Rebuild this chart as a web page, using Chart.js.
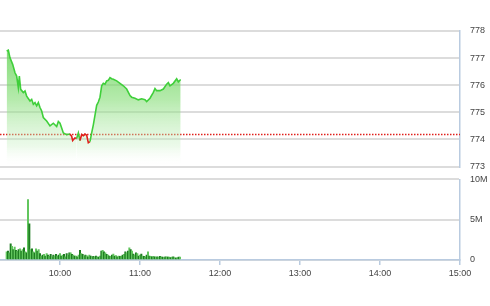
<!DOCTYPE html>
<html>
<head>
<meta charset="utf-8">
<script src="https://cdn.jsdelivr.net/npm/chart.js@4/dist/chart.umd.min.js"></script>
<style>
  html, body { margin: 0; padding: 0; background: #fff; }
  #wrap { position: relative; width: 490px; height: 306px; overflow: hidden; }
  canvas { position: absolute; left: 0; display: block; }
  #priceChart { top: 0; }
  #volChart { top: 164px; }
</style>
</head>
<body>
<div id="wrap">
  <canvas id="priceChart" width="490" height="182"></canvas>
  <canvas id="volChart" width="490" height="122"></canvas>
</div>
<script>
// time in minutes since midnight (9:15 -> 555, 15:00 -> 900)
const X_MIN = 555;
const X_MAX = 900;
const TIME_TICKS = ['10:00', '11:00', '12:00', '13:00', '14:00', '15:00'];

const REF_PRICE = 774.18;
const PRICE_TICKS = [773, 774, 775, 776, 777, 778];

const priceTimes = [
  560, 561.25, 562.5, 564.5, 566.25, 567.5, 568.75, 569.5, 570.5, 572.5,
  573.75, 575, 577.5, 578.75, 580, 581.25, 582.5, 583.75, 585, 586.25,
  587.5, 590, 592.5, 595, 597.5, 598.75, 600, 601.25, 602.5, 605,
  607.5, 608.75, 609.5, 611.25, 612.5, 613.75, 615, 616.25, 617.5, 618.75,
  620, 621.25, 622.5, 623.75, 625, 626.25, 627.5, 628.75, 630, 631.25,
  632.5, 633.75, 635, 636.25, 637.5, 638.75, 640, 642.5, 645, 647.5,
  650, 652.5, 653.75, 656.25, 658.75, 661.25, 663.75, 665, 667.5, 670,
  671.25, 672.5, 675, 677.5, 680, 681.25, 682.5, 685, 687.5, 688.75, 690.5
];
const priceValues = [
  777.26, 777.29, 777.01, 776.77, 776.46, 776.34, 775.91, 776.34, 775.85, 775.73,
  775.79, 775.60, 775.42, 775.48, 775.30, 775.36, 775.24, 775.36, 775.18, 775.05,
  774.81, 774.68, 774.50, 774.60, 774.48, 774.66, 774.60, 774.42, 774.24, 774.18,
  774.20, 774.12, 773.96, 774.06, 774.04, 774.24, 773.96, 774.18, 774.14, 774.20,
  774.16, 773.88, 773.92, 774.24, 774.54, 774.90, 775.26, 775.38, 775.56, 775.98,
  776.07, 776.04, 776.16, 776.18, 776.28, 776.24, 776.22, 776.16, 776.07, 775.98,
  775.86, 775.62, 775.56, 775.52, 775.46, 775.50, 775.47, 775.40, 775.52, 775.74,
  775.88, 775.80, 775.80, 775.86, 776.04, 776.10, 775.98, 776.07, 776.24, 776.12, 776.21
];

// volume per minute, millions, starting 9:20
const VOL_START = 560;
const VOL_TICKS = [0, 5, 10];
const volM = [
  1.0, 1.1, 0.9, 2.0, 1.7, 1.3, 1.6, 1.2, 1.1, 1.3,
  1.4, 1.1, 1.3, 1.5, 1.0, 0.9, 7.5, 4.5, 1.3, 1.4,
  1.0, 0.9, 1.4, 1.1, 1.3, 0.8, 0.5, 0.6, 0.7, 0.5,
  0.8, 0.6, 0.5, 0.7, 0.4, 0.6, 0.5, 0.7, 0.5, 0.6,
  0.8, 0.5, 0.6, 0.7, 0.4, 0.8, 0.6, 0.9, 0.9, 0.7,
  0.6, 0.5, 0.5, 0.4, 0.6, 1.2, 0.8, 0.7, 0.5, 0.6,
  0.55, 0.4, 0.6, 0.5, 0.4, 0.45, 0.4, 0.5, 0.4, 0.35,
  0.5, 1.1, 1.2, 1.0, 0.9, 0.7, 0.6, 0.5, 0.45, 0.6,
  0.75, 0.5, 0.55, 0.4, 0.5, 0.45, 0.5, 0.6, 0.7, 1.0,
  0.9, 1.1, 1.5, 1.3, 1.1, 0.75, 0.6, 0.9, 0.8, 0.5,
  0.6, 0.75, 0.5, 0.45, 0.4, 0.6, 1.0, 0.5, 0.45, 0.4,
  0.45, 0.4, 0.35, 0.4, 0.35, 0.45, 0.4, 0.35, 0.3, 0.4,
  0.4, 0.35, 0.37, 0.3, 0.35, 0.4, 0.3, 0.25, 0.3, 0.35, 0.37
];

const GREEN = '#3fcf3a';
const RED = '#e0201c';
const GRID = '#dcdcdc';
const EDGE = '#b9cbe0';
const TICK_FONT = { family: "'Liberation Sans', Arial, sans-serif", size: 9 };

Chart.defaults.color = '#444';
Chart.defaults.animation = false;

function toMinutes(s) {
  const [h, m] = s.split(':').map(Number);
  return h * 60 + m;
}
function fmtTime(v) {
  const h = Math.floor(v / 60), m = v % 60;
  return h + ':' + String(m).padStart(2, '0');
}

function fillGradient(ctx) {
  const { chart } = ctx;
  const area = chart.chartArea;
  if (!area) return 'rgba(100,210,90,0.5)';
  const g = chart.ctx.createLinearGradient(0, area.top, 0, area.bottom);
  g.addColorStop(0, 'rgba(80,205,65,0.85)');
  g.addColorStop(0.5, 'rgba(130,220,115,0.6)');
  g.addColorStop(0.85, 'rgba(200,240,195,0.35)');
  g.addColorStop(1, 'rgba(255,255,255,0)');
  return g;
}

// price panel
new Chart(document.getElementById('priceChart'), {
  type: 'line',
  data: {
    datasets: [
      {
        data: priceTimes.map((t, i) => ({ x: t, y: priceValues[i] })),
        borderColor: GREEN,
        borderWidth: 1.6,
        backgroundColor: fillGradient,
        fill: 'start',
        pointRadius: 0,
        tension: 0,
        segment: {
          borderColor: (s) => (s.p0.parsed.y < REF_PRICE && s.p1.parsed.y < REF_PRICE + 0.05) ||
            (s.p1.parsed.y < REF_PRICE && s.p0.parsed.y < REF_PRICE + 0.05) ? RED : GREEN,
        },
      },
      {
        data: [{ x: X_MIN, y: REF_PRICE }, { x: X_MAX, y: REF_PRICE }],
        borderColor: RED,
        borderWidth: 1.5,
        borderDash: [1.5, 1.5],
        pointRadius: 0,
        fill: false,
      },
    ],
  },
  options: {
    responsive: false,
    layout: { padding: { top: 31, bottom: 0, left: 0, right: 0 } },
    plugins: { legend: { display: false }, tooltip: { enabled: false } },
    scales: {
      x: { type: 'linear', min: X_MIN, max: X_MAX, display: false },
      y: {
        position: 'right',
        min: PRICE_TICKS[0],
        max: PRICE_TICKS[PRICE_TICKS.length - 1],
        afterBuildTicks: (axis) => { axis.ticks = PRICE_TICKS.map((v) => ({ value: v })); },
        afterFit: (axis) => { axis.width = 30; },
        grid: { color: GRID, lineWidth: 2, drawTicks: false },
        border: { display: true, color: EDGE, width: 1.5 },
        ticks: { padding: 10, font: TICK_FONT, color: '#444' },
      },
    },
  },
});

// volume panel
new Chart(document.getElementById('volChart'), {
  type: 'bar',
  data: {
    datasets: [{
      data: volM.map((v, i) => ({ x: VOL_START + i, y: v })),
      backgroundColor: (c) => (c.dataIndex % 2 ? '#1f7d22' : '#62c65e'),
      barPercentage: 1,
      categoryPercentage: 1,
    }],
  },
  options: {
    responsive: false,
    layout: { padding: { top: 0, bottom: 0, left: 0, right: 0 } },
    plugins: { legend: { display: false }, tooltip: { enabled: false } },
    scales: {
      x: {
        type: 'linear',
        min: X_MIN,
        max: X_MAX,
        offset: false,
        afterBuildTicks: (axis) => { axis.ticks = TIME_TICKS.map((s) => ({ value: toMinutes(s) })); },
        afterFit: (axis) => { axis.height = 26; },
        grid: { offset: false, drawOnChartArea: false, drawTicks: true, tickLength: 5, color: EDGE, lineWidth: 1.5 },
        border: { display: true, color: EDGE, width: 1.5 },
        ticks: { padding: 3, font: TICK_FONT, color: '#444', maxRotation: 0, callback: (v) => fmtTime(v) },
      },
      y: {
        position: 'right',
        min: 0,
        max: 10,
        afterBuildTicks: (axis) => { axis.ticks = VOL_TICKS.map((v) => ({ value: v })); },
        afterFit: (axis) => { axis.width = 30; },
        grid: { color: GRID, lineWidth: 2, drawTicks: false },
        border: { display: true, color: EDGE, width: 1.5 },
        ticks: { padding: 10, font: TICK_FONT, color: '#444', callback: (v) => (v === 0 ? '0' : v + 'M') },
      },
    },
  },
});
</script>
</body>
</html>
